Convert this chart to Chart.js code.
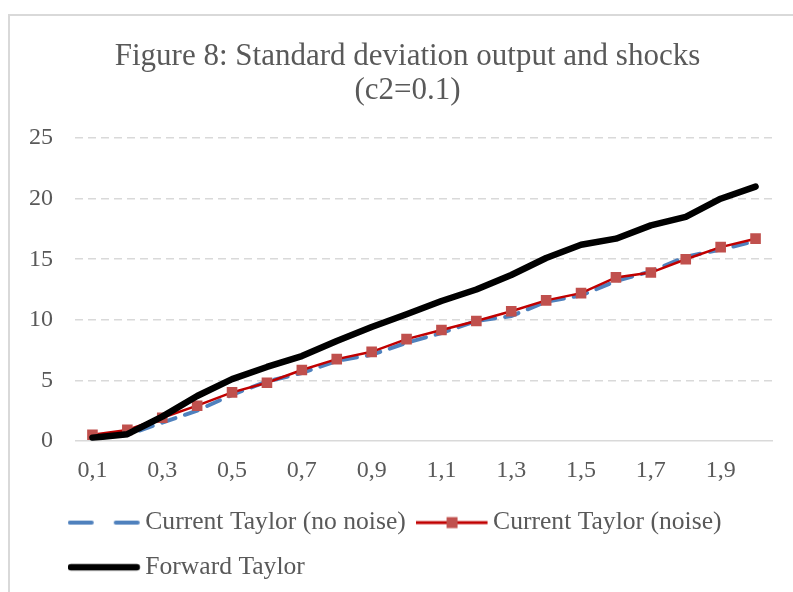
<!DOCTYPE html>
<html>
<head>
<meta charset="utf-8">
<script src="https://cdn.jsdelivr.net/npm/chart.js@4.4.1/dist/chart.umd.min.js"></script>
<style>
  html, body { margin: 0; padding: 0; background: #fff; overflow: hidden; }
  #wrap { position: relative; width: 793px; height: 592px; }
  #frame { position: absolute; left: 8px; top: 14px; width: 820px; height: 620px; border: 2px solid #d9d9d9; box-sizing: border-box; }
  canvas { position: absolute; left: 0; top: 0; }
</style>
</head>
<body>
<div id="wrap">
  <div id="frame"></div>
  <canvas id="chart" width="793" height="592"></canvas>
</div>
<script>
// c2 values along the x axis
const categories = ["0,1", "0,2", "0,3", "0,4", "0,5", "0,6", "0,7", "0,8", "0,9", "1",
                    "1,1", "1,2", "1,3", "1,4", "1,5", "1,6", "1,7", "1,8", "1,9", "2"];

const currentNoNoise = [0.2, 0.5, 1.5, 2.5, 3.8, 4.9, 5.6, 6.6, 7.1, 8.1,
                        8.9, 9.9, 10.3, 11.5, 12.0, 13.2, 14.0, 15.2, 15.8, 16.5];
const currentNoise   = [0.5, 0.9, 1.9, 2.9, 4.0, 4.8, 5.85, 6.75, 7.35, 8.4,
                        9.15, 9.9, 10.7, 11.6, 12.2, 13.5, 13.9, 15.0, 16.0, 16.7];
const forward        = [0.25, 0.55, 2.0, 3.7, 5.1, 6.1, 7.0, 8.25, 9.4, 10.45,
                        11.55, 12.5, 13.7, 15.1, 16.2, 16.7, 17.8, 18.5, 20.0, 21.0];

const seriesNames = ["Current Taylor (no noise)", "Current Taylor (noise)", "Forward Taylor"];
const yTicks = [0, 5, 10, 15, 20, 25];

const textColor = "#595959";
const fontFamily = "'Liberation Serif', serif";

// little line samples for the legend (content 72px wide, 2px transparent tail)
function makeIcon(draw) {
    const c = document.createElement("canvas");
    c.width = 74;
    c.height = 14;
    const g = c.getContext("2d");
    draw(g);
    return c;
}
const legendIcons = [
    makeIcon(g => {
        g.strokeStyle = "#4f81bd";
        g.lineWidth = 4;
        g.lineCap = "round";
        g.setLineDash([22, 24]);
        g.beginPath(); g.moveTo(2, 7); g.lineTo(70, 7); g.stroke();
    }),
    makeIcon(g => {
        g.strokeStyle = "#c00000";
        g.lineWidth = 3;
        g.beginPath(); g.moveTo(0, 7); g.lineTo(72, 7); g.stroke();
        g.fillStyle = "#c0504d";
        g.fillRect(31, 1.5, 11, 11);
    }),
    makeIcon(g => {
        g.strokeStyle = "#000";
        g.lineWidth = 6.5;
        g.lineCap = "round";
        g.beginPath(); g.moveTo(3, 7); g.lineTo(69, 7); g.stroke();
    }),
];

Chart.defaults.font.family = fontFamily;
Chart.defaults.color = textColor;

new Chart(document.getElementById("chart"), {
    type: "line",
    data: {
        labels: categories,
        datasets: [
            {
                label: seriesNames[0],
                data: currentNoNoise,
                borderColor: "#4f81bd",
                borderWidth: 4,
                borderDash: [14, 10],
                borderCapStyle: "round",
                pointRadius: 0,
                tension: 0,
                order: 2,
            },
            {
                label: seriesNames[1],
                data: currentNoise,
                borderColor: "#c00000",
                borderWidth: 2.5,
                pointStyle: "rect",
                pointRadius: 7.5,
                pointBackgroundColor: "#c0504d",
                pointBorderColor: "#c0504d",
                pointBorderWidth: 0,
                tension: 0,
                order: 1,
            },
            {
                label: seriesNames[2],
                data: forward,
                borderColor: "#000000",
                borderWidth: 6.5,
                borderCapStyle: "round",
                borderJoinStyle: "round",
                pointRadius: 0,
                tension: 0,
                order: 0,
            },
        ],
    },
    options: {
        responsive: false,
        animation: false,
        layout: { padding: { left: 10, right: 20, top: 30, bottom: 2 } },
        scales: {
            x: {
                offset: true,
                grid: { display: false, drawTicks: false },
                border: { display: false },
                afterFit: axis => { axis.height = 50; },
                ticks: {
                    autoSkip: false,
                    maxRotation: 0,
                    padding: 16,
                    font: { size: 24 },
                    color: textColor,
                    callback: (v, i) => (i % 2 === 0 ? categories[i] : ""),
                },
            },
            y: {
                min: yTicks[0],
                max: yTicks[yTicks.length - 1],
                afterBuildTicks: axis => { axis.ticks = yTicks.map(v => ({ value: v })); },
                afterFit: axis => { axis.width = 65; },
                grid: {
                    color: "#d9d9d9",
                    lineWidth: 1.5,
                    drawTicks: false,
                },
                border: {
                    display: false,
                    dash: ctx => (ctx.tick && ctx.tick.value === 0 ? [] : [8, 5]),
                },
                ticks: {
                    padding: 22,
                    font: { size: 24 },
                    color: textColor,
                },
            },
        },
        plugins: {
            tooltip: { enabled: false },
            title: {
                display: true,
                text: ["Figure 8: Standard deviation output and shocks", "(c2=0.1)"],
                color: textColor,
                font: { size: 31, weight: "normal", lineHeight: 1.1 },
                padding: { top: 10, bottom: 30 },
            },
            legend: {
                position: "bottom",
                align: "start",
                labels: {
                    usePointStyle: true,
                    pointStyleWidth: 55.5,
                    padding: 19,
                    font: { size: 25.6 },
                    color: textColor,
                    generateLabels: chart => chart.data.datasets.map((ds, i) => ({
                        text: ds.label,
                        pointStyle: legendIcons[i],
                        fillStyle: "transparent",
                        strokeStyle: "transparent",
                        lineWidth: 0,
                        hidden: false,
                        datasetIndex: i,
                        fontColor: textColor,
                    })),
                },
            },
        },
    },
    plugins: [{
        // legend rows start under the plot and the title sits a bit right, like the original
        id: "blockIndent",
        afterLayout(chart) {
            chart.legend.left = 58;
            chart.titleBlock.left = 42;
        },
    }],
});
</script>
</body>
</html>
